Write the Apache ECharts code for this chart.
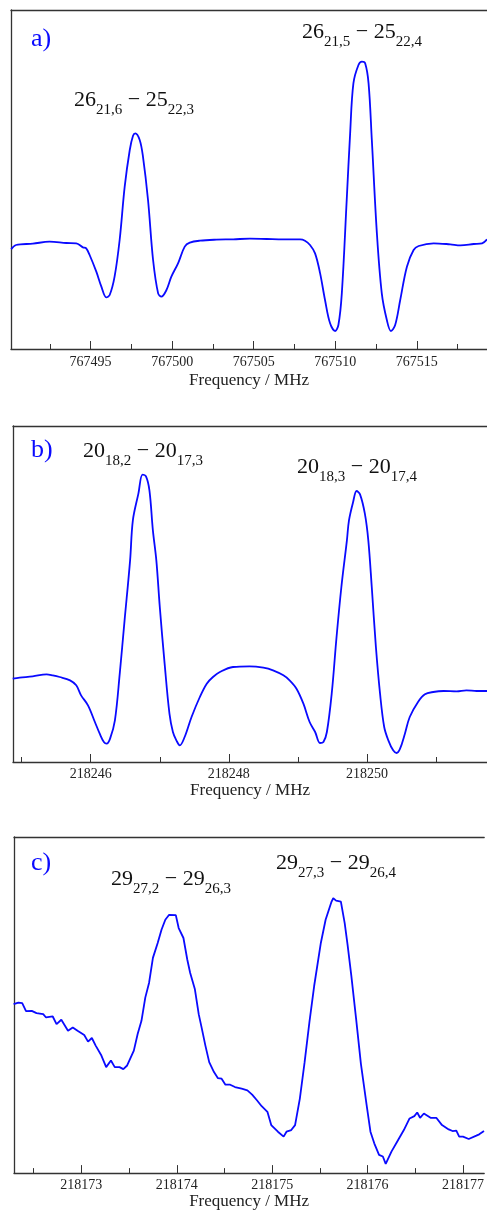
<!DOCTYPE html>
<html>
<head>
<meta charset="utf-8">
<script src="https://cdn.jsdelivr.net/npm/echarts@6/dist/echarts.min.js"></script>
<style>
html,body{margin:0;padding:0;background:#fff;}
#c{width:487px;height:1211px;}
</style>
</head>
<body>
<div id="c"></div>
<script>
// ---------- Panel a ----------
const aFreq = [767490.13,767490.43,767491.46,767492.48,767493.51,767494.12,767494.53,767494.73,767494.94,767495.35,767495.66,767495.96,767496.17,767496.47,767496.78,767497.09,767497.40,767497.60,767497.74,767498.01,767498.21,767498.52,767498.83,767499.14,767499.34,767499.65,767499.95,767500.36,767500.77,767501.08,767501.70,767502.72,767503.74,767504.77,767505.79,767506.81,767507.84,767508.14,767508.45,767508.76,767509.07,767509.37,767509.68,767509.99,767510.19,767510.40,767510.70,767510.91,767511.11,767511.42,767511.63,767511.83,767512.04,767512.24,767512.55,767512.85,767513.16,767513.41,767513.67,767513.98,767514.39,767514.80,767515.11,767516.03,767517.05,767517.67,767518.49,767519.00,767519.30];
const aInt = [0.299,0.312,0.316,0.322,0.318,0.317,0.305,0.302,0.282,0.232,0.187,0.155,0.162,0.217,0.327,0.487,0.597,0.640,0.647,0.627,0.577,0.447,0.267,0.167,0.157,0.177,0.217,0.257,0.307,0.319,0.325,0.328,0.329,0.331,0.330,0.329,0.329,0.325,0.312,0.287,0.227,0.147,0.077,0.054,0.072,0.167,0.447,0.647,0.797,0.852,0.862,0.857,0.797,0.627,0.347,0.167,0.087,0.054,0.072,0.147,0.247,0.297,0.309,0.317,0.314,0.311,0.315,0.317,0.329];
const aMajor = [767495,767500,767505,767510,767515];
const aMinor = [767492.5,767497.5,767502.5,767507.5,767512.5,767517.5];

// ---------- Panel b ----------
const bFreq = [218244.87,218244.97,218245.16,218245.36,218245.45,218245.55,218245.70,218245.79,218245.86,218245.96,218246.06,218246.13,218246.19,218246.23,218246.28,218246.35,218246.42,218246.49,218246.57,218246.61,218246.69,218246.75,218246.80,218246.85,218246.90,218246.95,218247.00,218247.07,218247.14,218247.19,218247.24,218247.29,218247.36,218247.46,218247.58,218247.68,218247.77,218247.87,218248.06,218248.30,218248.50,218248.64,218248.79,218248.88,218248.98,218249.08,218249.17,218249.25,218249.32,218249.37,218249.42,218249.49,218249.56,218249.63,218249.71,218249.74,218249.80,218249.85,218249.90,218249.97,218250.02,218250.07,218250.13,218250.19,218250.25,218250.31,218250.38,218250.43,218250.48,218250.55,218250.62,218250.74,218250.84,218250.96,218251.11,218251.30,218251.44,218251.59,218251.74];
const bInt = [0.250,0.253,0.257,0.263,0.260,0.255,0.245,0.230,0.200,0.170,0.120,0.085,0.060,0.055,0.070,0.125,0.265,0.425,0.605,0.725,0.805,0.862,0.857,0.815,0.695,0.605,0.465,0.295,0.145,0.090,0.065,0.050,0.075,0.135,0.195,0.235,0.255,0.270,0.285,0.287,0.283,0.275,0.260,0.245,0.220,0.175,0.120,0.090,0.057,0.060,0.090,0.205,0.375,0.525,0.665,0.725,0.780,0.813,0.803,0.745,0.665,0.525,0.345,0.205,0.105,0.065,0.035,0.027,0.040,0.085,0.135,0.180,0.203,0.210,0.213,0.212,0.215,0.213,0.213];
const bMajor = [218246,218248,218250];
const bMinor = [218245,218247,218249,218251];

// ---------- Panel c ----------
const cFreq = [218172.29,218172.34,218172.38,218172.42,218172.48,218172.53,218172.60,218172.63,218172.70,218172.74,218172.79,218172.86,218172.91,218172.96,218173.03,218173.07,218173.11,218173.15,218173.21,218173.26,218173.31,218173.35,218173.40,218173.44,218173.48,218173.55,218173.59,218173.63,218173.67,218173.71,218173.75,218173.80,218173.84,218173.88,218173.92,218173.99,218174.02,218174.07,218174.11,218174.14,218174.19,218174.23,218174.26,218174.30,218174.34,218174.39,218174.43,218174.47,218174.51,218174.56,218174.61,218174.68,218174.74,218174.79,218174.84,218174.89,218174.95,218174.99,218175.06,218175.12,218175.15,218175.20,218175.24,218175.29,218175.34,218175.39,218175.44,218175.51,218175.56,218175.62,218175.64,218175.67,218175.72,218175.76,218175.79,218175.83,218175.88,218175.93,218175.99,218176.03,218176.07,218176.12,218176.16,218176.19,218176.25,218176.32,218176.38,218176.44,218176.49,218176.52,218176.55,218176.59,218176.66,218176.72,218176.78,218176.85,218176.89,218176.93,218176.96,218177.00,218177.06,218177.08,218177.14,218177.17,218177.19,218177.22];
const cInt = [0.510,0.515,0.513,0.489,0.490,0.483,0.480,0.470,0.473,0.450,0.463,0.430,0.440,0.430,0.417,0.397,0.408,0.385,0.355,0.320,0.340,0.320,0.320,0.314,0.325,0.370,0.420,0.460,0.530,0.575,0.650,0.695,0.735,0.765,0.780,0.779,0.740,0.710,0.645,0.605,0.555,0.480,0.440,0.385,0.335,0.305,0.287,0.285,0.267,0.267,0.260,0.255,0.250,0.237,0.220,0.202,0.185,0.145,0.125,0.110,0.125,0.130,0.145,0.225,0.335,0.455,0.565,0.695,0.765,0.818,0.830,0.823,0.820,0.755,0.690,0.595,0.465,0.330,0.205,0.125,0.090,0.055,0.050,0.028,0.065,0.100,0.130,0.165,0.172,0.183,0.167,0.180,0.167,0.167,0.145,0.132,0.127,0.128,0.110,0.110,0.103,0.102,0.113,0.117,0.113,0.127];
const cMajor = [218173,218174,218175,218176,218177];
const cMinor = [218172.5,218173.5,218174.5,218175.5,218176.5];

const axisTitle = 'Frequency / MHz';
const panelLabels = ['a)','b)','c)'];
const transitions = [
  [['26','21,6','25','22,3'], ['26','21,5','25','22,4']],
  [['20','18,2','20','17,3'], ['20','18,3','20','17,4']],
  [['29','27,2','29','26,3'], ['29','27,3','29','26,4']]
];

// ---------- layout / style ----------
const SERIF = '"Liberation Serif","Times New Roman",serif';
const AXC = '#333';
const BLUE = '#0a0aff';
const panels = [
  {freq:aFreq, int:aInt, major:aMajor, minor:aMinor, xmin:767490.12, xmax:767519.3, ymax:1.017, top:10, h:339, left:11, nameGap:23, margin:6,
   ann:[[74,89],[302,21]], lab:[31,26]},
  {freq:bFreq, int:bInt, major:bMajor, minor:bMinor, xmin:218244.874, xmax:218251.739, ymax:1.008, top:426, h:336, left:13, nameGap:20, margin:5,
   ann:[[83,440],[297,456]], lab:[31,437]},
  {freq:cFreq, int:cInt, major:cMajor, minor:cMinor, xmin:218172.294, xmax:218177.222, ymax:1.015, top:837, h:338, left:14, nameGap:18, margin:5,
   ann:[[111,868],[276,852]], lab:[31,850]}
];

const grid = [], xAxis = [], yAxis = [], series = [], graphic = [];
panels.forEach((p, i) => {
  grid.push({left:p.left, right:0, top:p.top, height:p.h, containLabel:false});
  xAxis.push({
    type:'value', gridIndex:i, min:p.xmin, max:p.xmax, position:'bottom',
    axisLine:{show:true, onZero:false, lineStyle:{color:AXC, width:1.3}},
    axisTick:{show:true, inside:true, length:8, customValues:p.major, lineStyle:{color:AXC, width:1}},
    axisLabel:{show:true, customValues:p.major, margin:p.margin, color:'#222', fontFamily:SERIF, fontSize:14,
      formatter:v => String(v), showMinLabel:true, showMaxLabel:true, hideOverlap:false},
    splitLine:{show:false},
    name:axisTitle, nameLocation:'middle', nameGap:p.nameGap,
    nameTextStyle:{color:'#222', fontFamily:SERIF, fontSize:17}
  });
  xAxis.push({
    type:'value', gridIndex:i, min:p.xmin, max:p.xmax, position:'bottom',
    axisLine:{show:false, onZero:false},
    axisTick:{show:true, inside:true, length:5, customValues:p.minor, lineStyle:{color:AXC, width:1}},
    axisLabel:{show:false}, splitLine:{show:false}
  });
  xAxis.push({
    type:'value', gridIndex:i, min:p.xmin, max:p.xmax, position:'top',
    axisLine:{show:true, onZero:false, lineStyle:{color:AXC, width:1.3}},
    axisTick:{show:false}, axisLabel:{show:false}, splitLine:{show:false}
  });
  yAxis.push({
    type:'value', gridIndex:i, min:0, max:p.ymax,
    axisLine:{show:true, onZero:false, lineStyle:{color:AXC, width:1.3}},
    axisTick:{show:false}, axisLabel:{show:false}, splitLine:{show:false}
  });
  series.push({
    type:'line', xAxisIndex:i*3, yAxisIndex:i,
    data:p.freq.map((f, k) => [f, p.int[k]]),
    showSymbol:false, smooth: i === 2 ? false : 0.35,
    lineStyle:{color:BLUE, width:1.8}, clip:true
  });
  graphic.push({type:'text', left:p.lab[0], top:p.lab[1], z:10,
    style:{text:panelLabels[i], fill:BLUE, font:'26px ' + SERIF}});
  transitions[i].forEach((t, j) => {
    graphic.push({type:'text', left:p.ann[j][0], top:p.ann[j][1], z:10,
      style:{
        text:'{m|' + t[0] + '}{s|' + t[1] + '}{m| \u2212 ' + t[2] + '}{s|' + t[3] + '}',
        rich:{
          m:{fontFamily:SERIF, fontSize:22, lineHeight:29, verticalAlign:'top', fill:'#111', color:'#111'},
          s:{fontFamily:SERIF, fontSize:15, lineHeight:29, verticalAlign:'bottom', fill:'#111', color:'#111'}
        }
      }});
  });
});

const chart = echarts.init(document.getElementById('c'), null, {renderer:'canvas'});
chart.setOption({
  animation:false,
  backgroundColor:'#fff',
  grid, xAxis, yAxis, series, graphic
});
</script>
</body>
</html>
